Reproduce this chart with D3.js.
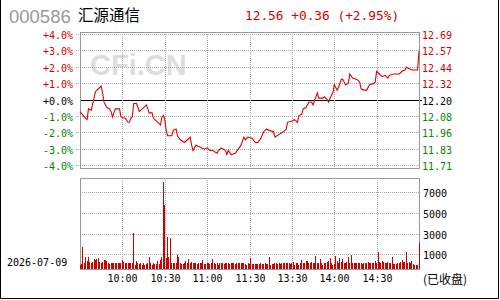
<!DOCTYPE html>
<html><head><meta charset="utf-8">
<script src="https://cdn.jsdelivr.net/npm/d3@7"></script>
<style>html,body{margin:0;padding:0;background:#fff;}svg{display:block;}</style>
</head><body>
<script>
// ---- data ----
const stockCode = "000586";
const stockName = "汇源通信";
const headerText = "12.56 +0.36 (+2.95%)";
const dateLabel = "2026-07-09";
const closedLabel = "(已收盘)";
const prevClose = 12.20;
const pctTicks = [4, 3, 2, 1, 0, -1, -2, -3, -4];
const pctTickLabels = ["+4.0%","+3.0%","+2.0%","+1.0%","+0.0%","-1.0%","-2.0%","-3.0%","-4.0%"];
const priceTickLabels = ["12.69","12.57","12.44","12.32","12.20","12.08","11.96","11.83","11.71"];
const timeTickMinutes = [30, 60, 90, 120, 150, 180, 210];
const timeTickLabels = ["10:00","10:30","11:00","11:30","13:30","14:00","14:30"];
const volTicks = [7000, 5000, 3000, 1000];
// minute index since 9:30 (trading minutes), price
const priceMinutes = [0,3,5,6,8,9,11,13,15,16,17,19,21,22,23,24,25,27,28,29,32,34,35,36,37,38,40,41,42,44,45,47,48,49,51,52,54,56,57,58,59,60,61,62,65,66,68,69,71,74,76,78,79,80,82,84,86,88,90,92,94,97,98,100,103,104,105,107,110,112,114,116,117,119,122,124,126,128,130,132,134,137,138,141,144,146,147,150,152,154,155,157,158,160,162,164,165,166,168,169,172,173,175,176,177,179,180,182,183,185,186,188,190,191,193,196,198,199,201,203,205,208,209,210,212,214,216,218,219,222,224,226,228,230,231,233,235,239,240];
const priceValues = [12.11,12.07,12.05,12.13,12.12,12.17,12.26,12.28,12.30,12.25,12.18,12.14,12.13,12.11,12.07,12.10,12.13,12.13,12.13,12.07,12.06,12.03,12.03,12.06,12.07,12.17,12.17,12.14,12.11,12.13,12.14,12.16,12.13,12.10,12.10,12.06,12.04,12.02,12.01,12.07,12.08,12.05,11.97,11.93,11.93,11.97,11.98,11.93,11.90,11.88,11.90,11.92,11.86,11.82,11.86,11.85,11.84,11.83,11.84,11.82,11.82,11.80,11.82,11.84,11.82,11.79,11.82,11.79,11.80,11.83,11.86,11.92,11.90,11.92,11.91,11.88,11.88,11.91,11.96,11.98,11.97,11.96,11.92,11.94,11.96,11.98,12.03,12.04,12.05,12.03,12.08,12.09,12.13,12.14,12.18,12.18,12.16,12.19,12.25,12.21,12.21,12.22,12.20,12.18,12.21,12.25,12.31,12.27,12.29,12.35,12.35,12.31,12.32,12.39,12.36,12.35,12.33,12.28,12.27,12.27,12.31,12.32,12.33,12.41,12.39,12.37,12.38,12.36,12.38,12.39,12.39,12.39,12.41,12.42,12.44,12.43,12.42,12.42,12.56];
// volume per minute, minutes 0..240
const volMorning = [0,30,1670,150,710,400,710,283,187,300,510,445,510,607,283,187,300,445,445,350,187,58,126,126,126,126,126,126,126,126,445,283,126,126,126,126,187,126,3090,0,380,126,58,187,0,126,0,58,126,706,126,0,126,58,58,380,58,445,706,7990,5770,607,2640,706,2550,187,126,126,126,929,706,126,58,58,126,380,126,510,126,283,126,126,126,58,126,126,126,445,58,58,126,126,60,126,510,187,58,126,0,126,200,126,58,126,126,126,58,126,126,126,58,126,126,187,126,126,126,58,0,126,58];
const volAfternoon = [607,58,58,58,58,60,58,187,58,60,126,58,60,706,0,58,60,126,126,58,126,60,126,126,126,126,126,126,58,126,283,0,126,126,0,126,445,126,187,380,380,126,126,283,126,126,832,126,126,510,126,0,187,126,283,380,640,126,0,58,832,380,126,607,283,510,126,126,283,768,126,929,187,126,126,126,187,126,126,58,126,187,126,283,126,126,126,126,380,187,1250,283,126,380,283,126,126,283,126,187,706,58,58,58,187,187,283,445,283,283,1250,187,283,187,380,58,0,0,0,2120];
const volumes = volMorning.concat(volAfternoon);

// ---- drawing ----
const W = 500, H = 300;
const svg = d3.select("body").append("svg").attr("width", W).attr("height", H);
const mono = "'DejaVu Sans Mono', 'Liberation Mono', monospace";
const RED = "#d40000", GREEN = "#008800", GRID = "#aaaaaa", FRAME = "#999999";

const x = d3.scaleLinear().domain([0, 240]).range([80, 419]);
const yPct = d3.scaleLinear().domain([-4, 4]).range([165, 34]);
const yPrice = p => yPct((p / prevClose - 1) * 100);
const yVol = d3.scaleLinear().domain([1000, 7000]).range([254.3, 192.3]);
const pTop = 32, pBot = 168, vTop = 178, vBot = 269;

// outer border (left, right, bottom)
svg.append("path").attr("d", "M0.5,0 V298.5 H498.5 V0")
  .attr("fill", "none").attr("stroke", "#000").attr("stroke-width", 1);

// watermark
svg.append("text").attr("x", 90).attr("y", 75).text("CFi.CN")
  .attr("font-family", "'Liberation Sans', Arial, sans-serif").attr("font-weight", "bold")
  .attr("font-size", 29).attr("fill", "#dddddd");

// titles
svg.append("text").attr("x", 9).attr("y", 23).text(stockCode)
  .attr("font-family", "'Liberation Sans', Arial, sans-serif").attr("font-size", 18.5).attr("fill", "#999");
svg.append("text").attr("x", 78).attr("y", 21).text(stockName)
  .attr("font-family", "'Noto Sans CJK SC', sans-serif").attr("font-size", 15.5).attr("fill", "#000");
svg.append("text").attr("x", 245).attr("y", 20).text(headerText)
  .attr("font-family", mono).attr("font-size", 12.8).attr("fill", RED);

// price grid
const gH = svg.append("g");
pctTicks.forEach((p, i) => {
  const y = Math.round(yPct(p)) + 0.5;
  if (p === 0) {
    gH.append("line").attr("x1", 80).attr("x2", 422).attr("y1", y).attr("y2", y)
      .attr("stroke", "#000").attr("stroke-width", 1);
  } else {
    gH.append("line").attr("x1", 76).attr("x2", 419).attr("y1", y).attr("y2", y)
      .attr("stroke", GRID).attr("stroke-dasharray", "1,1");
  }
  const col = p > 0 ? RED : (p < 0 ? GREEN : "#000");
  gH.append("text").attr("x", 73).attr("y", y + 4).attr("text-anchor", "end")
    .text(pctTickLabels[i]).attr("font-family", mono).attr("font-size", 10).attr("fill", col);
  gH.append("text").attr("x", 422).attr("y", y + 4).text(priceTickLabels[i])
    .attr("font-family", mono).attr("font-size", 10).attr("fill", col);
});
// vertical grid in both panels
timeTickMinutes.forEach((m, i) => {
  const xx = Math.round(x(m)) + 0.5;
  svg.append("line").attr("x1", xx).attr("x2", xx).attr("y1", pTop).attr("y2", pBot)
    .attr("stroke", GRID).attr("stroke-dasharray", "1,1");
  svg.append("line").attr("x1", xx).attr("x2", xx).attr("y1", vTop).attr("y2", vBot)
    .attr("stroke", GRID).attr("stroke-dasharray", "1,1");
  svg.append("text").attr("x", xx).attr("y", 282).attr("text-anchor", "middle")
    .text(timeTickLabels[i]).attr("font-family", mono).attr("font-size", 10).attr("fill", "#000");
});
// volume grid
volTicks.forEach(v => {
  const y = Math.round(yVol(v)) + 0.5;
  svg.append("line").attr("x1", 80).attr("x2", 419).attr("y1", y).attr("y2", y)
    .attr("stroke", GRID).attr("stroke-dasharray", "1,1");
  svg.append("text").attr("x", 423).attr("y", y + 4).text(v)
    .attr("font-family", mono).attr("font-size", 10).attr("fill", "#000");
});

// frames
svg.append("rect").attr("x", 80.5).attr("y", pTop + 0.5).attr("width", 339).attr("height", pBot - pTop)
  .attr("fill", "none").attr("stroke", FRAME);
svg.append("rect").attr("x", 80.5).attr("y", vTop + 0.5).attr("width", 339).attr("height", vBot - vTop)
  .attr("fill", "none").attr("stroke", FRAME);

// price line
const pts = priceMinutes.map((m, i) => [m, priceValues[i]]);
svg.append("path").datum(pts)
  .attr("d", d3.line().x(d => x(d[0])).y(d => yPrice(d[1])))
  .attr("fill", "none").attr("stroke", "#dd0000").attr("stroke-width", 1.1);

// volume bars
svg.append("g").attr("shape-rendering", "crispEdges").selectAll("rect").data(volumes).join("rect")
  .attr("x", (d, i) => Math.floor(x(i)))
  .attr("width", 1)
  .attr("y", d => Math.round(yVol(d)))
  .attr("height", d => vBot - Math.round(yVol(d)))
  .attr("fill", "#cc0000");

// labels
svg.append("text").attr("x", 7).attr("y", 266).text(dateLabel)
  .attr("font-family", mono).attr("font-size", 10).attr("fill", "#000");
svg.append("text").attr("x", 423).attr("y", 284).text(closedLabel)
  .attr("font-family", "'Noto Sans CJK SC', sans-serif").attr("font-size", 12).attr("fill", "#000");
</script>
</body></html>
